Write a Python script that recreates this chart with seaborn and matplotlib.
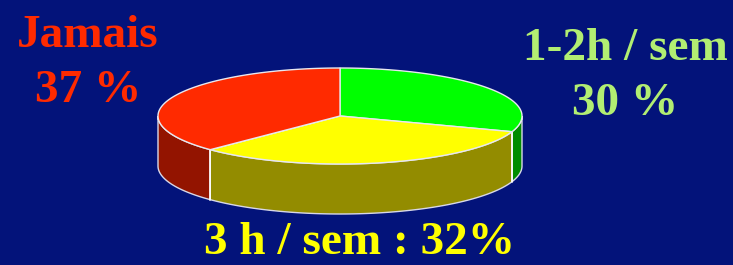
import matplotlib.pyplot as plt
import seaborn as sns
import numpy as np
from matplotlib.patches import Polygon

# data
labels = ['1-2h / sem', '3 h / sem', 'Jamais']
values = [30, 32, 37]
top_colors = ['#00FF00', '#FFFF00', '#FF2A00']
side_colors = ['#008C00', '#938C00', '#931400']
text_lines = ['1-2h / sem\n30 %', '3 h / sem : 32%', 'Jamais\n37 %']
text_colors = ['#B2EE72', '#FFFF00', '#FF2A00']

bg = '#03137A'
sns.set_theme(style='white', rc={'axes.facecolor': bg, 'figure.facecolor': bg})
plt.rcParams['font.family'] = ['Liberation Serif', 'DejaVu Serif']

fig = plt.figure(figsize=(7.33, 2.65), dpi=100)
ax = fig.add_axes([0, 0, 1, 1])
ax.set_xlim(0, 733)
ax.set_ylim(265, 0)
ax.axis('off')

cx, cy, a, b, depth = 340, 116, 182, 48, 50


def pt(t, dy=0):
    return cx + a * np.cos(t), cy - b * np.sin(t) + dy


# slice angles, clockwise from 12 o'clock
fr = np.array(values) / np.sum(values)
ends = np.pi / 2 - 2 * np.pi * np.cumsum(fr)
starts = np.concatenate([[np.pi / 2], ends[:-1]])

# side walls (front half only)
for s, e, c in zip(starts, ends, side_colors):
    ts = np.linspace(e, s, 400)
    front = np.sin(ts) < 0
    if not front.any():
        continue
    ts = ts[front]
    x, y = pt(ts)
    xb, yb = pt(ts[::-1], depth)
    poly = np.column_stack([np.concatenate([x, xb]), np.concatenate([y, yb])])
    ax.add_patch(Polygon(poly, closed=True, fc=c, ec='#D8D8E8', lw=1.0, zorder=1))

# vertical edges at boundaries on the front
for t in starts:
    if np.sin(t) < 0:
        x, y = pt(t)
        ax.plot([x, x], [y, y + depth], color='white', lw=1.2, zorder=2)

# top faces
for s, e, c in zip(starts, ends, top_colors):
    ts = np.linspace(s, e, 300)
    x, y = pt(ts)
    poly = np.column_stack([np.concatenate([[cx], x]), np.concatenate([[cy], y])])
    ax.add_patch(Polygon(poly, closed=True, fc=c, ec='#E8E8F0', lw=1.0, zorder=3))

# labels
pos = [(625, 60), (359, 254), (88, 47)]
for (x, y), txt, col in zip(pos, text_lines, text_colors):
    ax.text(x, y, txt.split('\n')[0], ha='center', va='baseline', color=col,
            fontsize=34, fontweight='bold', zorder=5)
    if '\n' in txt:
        ax.text(x, y + 55, txt.split('\n')[1], ha='center', va='baseline', color=col,
                fontsize=34, fontweight='bold', zorder=5)

fig.savefig('out.png', dpi=100, facecolor=bg)
